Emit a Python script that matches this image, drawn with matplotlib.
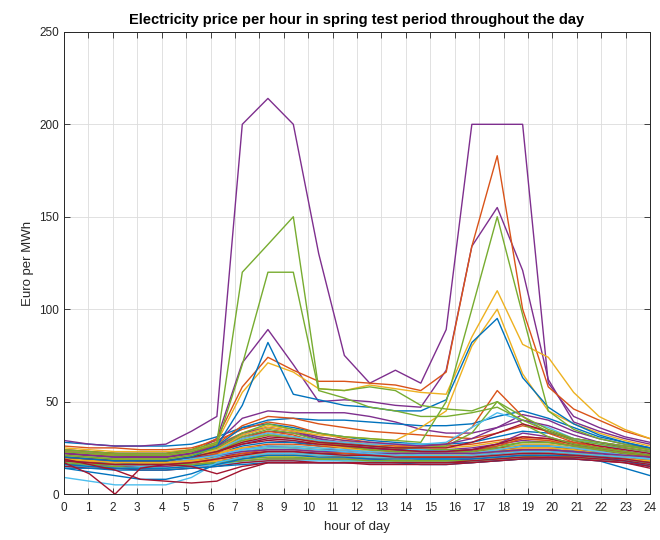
import matplotlib
matplotlib.use("Agg")
import matplotlib.pyplot as plt

# hourly samples spread over the 0..24 axis
hours = [0.00, 1.04, 2.09, 3.13, 4.17, 5.22, 6.26, 7.30, 8.35, 9.39, 10.43, 11.48,
         12.52, 13.57, 14.61, 15.65, 16.70, 17.74, 18.78, 19.83, 20.87, 21.91, 22.96, 24.00]

# ordinary days (Euro per MWh for each hour)
regular_days = [
    [28, 27, 26, 26, 26, 27, 31, 36, 38, 36, 33, 31, 29, 28, 27, 27, 28, 31, 34, 33, 30, 28, 26, 25],
    [26, 25, 25, 24, 24, 25, 29, 35, 39, 37, 33, 30, 28, 27, 26, 26, 27, 29, 31, 30, 28, 26, 25, 23],
    [25, 24, 23, 23, 23, 24, 27, 33, 37, 35, 31, 29, 27, 26, 25, 25, 26, 28, 30, 29, 27, 25, 24, 22],
    [24, 23, 22, 22, 22, 23, 26, 31, 34, 33, 30, 28, 26, 25, 24, 24, 25, 27, 29, 28, 26, 24, 23, 21],
    [23, 22, 22, 21, 21, 22, 25, 29, 32, 31, 29, 27, 26, 25, 24, 24, 24, 26, 28, 28, 26, 24, 22, 21],
    [22, 22, 21, 21, 21, 22, 24, 28, 30, 29, 27, 26, 25, 24, 24, 23, 24, 25, 27, 27, 25, 24, 22, 20],
    [22, 21, 20, 20, 20, 21, 23, 27, 29, 28, 27, 26, 25, 24, 23, 23, 24, 25, 26, 26, 25, 23, 22, 20],
    [21, 20, 20, 19, 19, 20, 22, 26, 28, 28, 26, 25, 24, 24, 23, 23, 23, 24, 26, 26, 24, 23, 21, 19],
    [21, 20, 19, 19, 19, 20, 22, 25, 27, 27, 26, 25, 24, 23, 23, 22, 23, 24, 25, 25, 24, 22, 21, 19],
    [20, 20, 19, 19, 19, 20, 22, 25, 26, 26, 25, 24, 24, 23, 22, 22, 22, 23, 25, 25, 24, 22, 21, 19],
    [20, 19, 18, 18, 18, 19, 21, 24, 26, 25, 24, 24, 23, 22, 22, 22, 22, 23, 24, 24, 23, 22, 20, 18],
    [19, 19, 18, 18, 18, 19, 21, 23, 25, 25, 24, 23, 22, 22, 21, 21, 22, 23, 24, 24, 23, 21, 20, 18],
    [19, 18, 18, 17, 17, 18, 20, 23, 24, 24, 23, 22, 22, 21, 21, 21, 21, 22, 23, 24, 23, 21, 20, 18],
    [18, 18, 17, 17, 17, 18, 20, 22, 23, 23, 22, 22, 21, 21, 20, 20, 21, 22, 23, 23, 22, 21, 19, 17],
    [18, 17, 17, 16, 16, 17, 19, 21, 22, 22, 22, 21, 21, 20, 20, 20, 20, 21, 22, 23, 22, 21, 19, 17],
    [17, 17, 16, 16, 16, 17, 18, 20, 21, 21, 21, 20, 20, 20, 19, 19, 20, 21, 22, 22, 22, 20, 19, 17],
    [17, 16, 16, 15, 15, 16, 18, 19, 20, 20, 20, 20, 19, 19, 19, 19, 19, 20, 21, 22, 21, 20, 18, 16],
    [16, 16, 15, 15, 15, 16, 17, 18, 19, 19, 19, 19, 19, 18, 18, 18, 19, 20, 21, 21, 21, 20, 18, 16],
    [16, 15, 15, 14, 14, 15, 16, 18, 19, 19, 19, 18, 18, 18, 18, 18, 18, 19, 20, 21, 20, 19, 18, 15],
    [15, 15, 14, 14, 14, 15, 16, 17, 18, 18, 18, 18, 18, 17, 17, 17, 18, 19, 20, 20, 20, 19, 17, 15],
    [15, 14, 14, 13, 13, 14, 15, 17, 18, 18, 17, 17, 17, 17, 17, 17, 17, 18, 19, 20, 19, 18, 17, 14],
    [14, 14, 13, 13, 13, 14, 15, 16, 17, 17, 17, 17, 17, 17, 16, 16, 17, 18, 19, 19, 19, 18, 14, 10],
    [20, 19, 19, 18, 18, 19, 22, 30, 34, 32, 28, 26, 24, 23, 22, 22, 23, 26, 30, 29, 26, 24, 22, 20],
    [19, 18, 17, 17, 17, 18, 21, 28, 33, 31, 27, 25, 23, 22, 22, 21, 22, 24, 27, 27, 25, 23, 21, 19],
    [23, 22, 21, 21, 21, 22, 25, 32, 36, 34, 30, 27, 25, 24, 23, 23, 24, 27, 33, 31, 27, 25, 23, 21],
    [21, 21, 20, 20, 20, 21, 24, 31, 35, 33, 29, 26, 24, 23, 23, 23, 23, 25, 28, 28, 26, 24, 22, 21],
    [17, 16, 16, 15, 16, 17, 20, 24, 26, 26, 25, 24, 23, 22, 22, 22, 22, 24, 26, 26, 25, 23, 21, 19],
    [22, 21, 21, 20, 20, 21, 23, 27, 30, 29, 27, 26, 25, 24, 23, 23, 24, 27, 31, 30, 27, 25, 23, 21],
    [16, 15, 14, 14, 14, 15, 17, 20, 22, 22, 21, 21, 20, 20, 19, 19, 20, 22, 24, 24, 23, 21, 19, 17],
    [18, 17, 16, 16, 16, 17, 19, 22, 24, 24, 23, 22, 21, 21, 20, 20, 21, 22, 24, 24, 23, 21, 20, 18],
    [19, 18, 18, 17, 17, 18, 19, 21, 22, 22, 21, 21, 20, 20, 20, 20, 20, 21, 22, 22, 21, 20, 19, 18],
    [21, 20, 20, 19, 19, 20, 21, 23, 24, 24, 23, 23, 22, 22, 22, 22, 22, 23, 24, 24, 23, 22, 21, 20],
    [17, 16, 16, 16, 16, 16, 17, 19, 20, 20, 19, 19, 18, 18, 18, 18, 18, 19, 20, 21, 20, 19, 18, 17],
    [20, 19, 18, 18, 18, 19, 21, 24, 25, 25, 24, 23, 22, 21, 21, 21, 21, 22, 23, 23, 22, 21, 20, 19],
]

# unusually cheap nights
low_days = [
    [9, 7, 5, 5, 5, 9, 17, 20, 22, 22, 21, 21, 20, 20, 19, 19, 20, 21, 22, 22, 21, 20, 18, 16],
    [14, 12, 10, 8, 8, 11, 16, 19, 21, 21, 20, 20, 19, 19, 19, 19, 19, 20, 21, 21, 21, 20, 18, 15],
    [17, 11, 0, 14, 16, 17, 19, 21, 23, 23, 22, 21, 21, 20, 20, 20, 20, 21, 22, 22, 21, 20, 19, 17],
    [19, 16, 13, 8, 7, 6, 7, 13, 17, 17, 17, 17, 17, 17, 17, 17, 18, 19, 20, 20, 20, 19, 18, 16],
    [18, 17, 16, 16, 16, 15, 11, 15, 17, 17, 17, 17, 16, 16, 16, 16, 17, 18, 19, 19, 19, 18, 17, 15],
]
low_colors = [5, 0, 6, 6, 6]

# days with evening / morning bumps
bump_days = [
    [23, 22, 21, 21, 21, 23, 28, 41, 45, 44, 44, 44, 42, 39, 35, 33, 33, 36, 43, 40, 34, 30, 27, 25],
    [21, 20, 19, 19, 19, 21, 26, 36, 40, 41, 40, 40, 39, 38, 37, 37, 38, 42, 45, 41, 36, 31, 28, 25],
    [22, 21, 20, 20, 20, 22, 27, 37, 42, 41, 38, 36, 34, 33, 32, 31, 30, 33, 37, 34, 30, 28, 26, 24],
    [20, 19, 19, 18, 18, 20, 24, 30, 33, 31, 29, 28, 27, 26, 26, 27, 36, 56, 42, 33, 28, 25, 23, 21],
    [20, 19, 19, 18, 18, 20, 23, 29, 32, 30, 28, 27, 26, 25, 25, 26, 33, 50, 38, 31, 27, 25, 23, 21],
    [21, 20, 20, 19, 19, 21, 24, 30, 33, 31, 29, 28, 27, 27, 27, 28, 36, 44, 40, 36, 30, 27, 24, 22],
    [22, 21, 20, 20, 20, 22, 26, 33, 36, 34, 31, 29, 28, 27, 26, 27, 30, 36, 40, 37, 32, 28, 25, 23],
    [20, 19, 18, 18, 18, 20, 23, 28, 31, 30, 28, 27, 26, 25, 25, 25, 28, 33, 38, 34, 29, 26, 24, 22],
]
bump_colors = [3, 0, 1, 1, 4, 5, 3, 6]

# price spike days
spike_days = [
    [29, 27, 26, 26, 27, 34, 42, 200, 214, 200, 130, 75, 60, 67, 60, 89, 200, 200, 200, 60, 42, 36, 31, 28],
    [22, 21, 20, 20, 20, 22, 30, 71, 89, 70, 50, 51, 50, 48, 47, 67, 134, 155, 121, 62, 39, 34, 30, 27],
    [24, 23, 22, 22, 22, 24, 30, 58, 74, 67, 61, 61, 60, 59, 56, 66, 134, 183, 100, 58, 46, 40, 34, 30],
    [23, 22, 21, 21, 21, 23, 28, 55, 71, 66, 57, 56, 59, 57, 55, 54, 85, 110, 81, 74, 55, 42, 35, 30],
    [21, 20, 19, 19, 19, 21, 24, 32, 36, 34, 32, 31, 30, 29, 36, 45, 80, 100, 65, 45, 38, 33, 29, 26],
    [20, 19, 18, 18, 18, 20, 26, 48, 82, 54, 51, 48, 47, 45, 45, 51, 82, 95, 63, 47, 38, 32, 28, 25],
    [24, 23, 22, 22, 22, 24, 28, 120, 135, 150, 57, 56, 58, 56, 48, 46, 45, 50, 42, 35, 30, 28, 26, 24],
    [23, 22, 21, 21, 21, 23, 27, 70, 120, 120, 56, 52, 47, 45, 42, 42, 44, 47, 40, 34, 29, 27, 25, 23],
    [21, 20, 19, 19, 19, 21, 25, 33, 38, 35, 33, 31, 30, 29, 28, 50, 100, 150, 97, 45, 35, 30, 27, 24],
]
spike_colors = [3, 3, 1, 2, 2, 0, 4, 4, 4]

# MATLAB default line colour order
palette = ["#0072BD", "#D95319", "#EDB120", "#7E2F8E", "#77AC30", "#4DBEEE", "#A2142F"]

plt.rcParams["font.family"] = ["Liberation Sans", "DejaVu Sans"]

fig = plt.figure(figsize=(6.6, 5.4), dpi=100)
ax = fig.add_axes([0.097, 0.085, 0.888, 0.856])

for n, day in enumerate(regular_days):
    ax.plot(hours, day, color=palette[n % 7], lw=1.0)
for day, c in zip(low_days, low_colors):
    ax.plot(hours, day, color=palette[c], lw=1.0)
for day, c in zip(bump_days, bump_colors):
    ax.plot(hours, day, color=palette[c], lw=1.0)
for day, c in zip(spike_days, spike_colors):
    ax.plot(hours, day, color=palette[c], lw=1.0)

ax.set_xlim(0, 24)
ax.set_ylim(0, 250)
ax.set_xticks(range(25))
ax.set_yticks(range(0, 251, 50))
ax.grid(True, color="#dcdcdc", lw=0.6)
ax.set_axisbelow(True)
ax.tick_params(direction="in", top=True, right=True, length=4, width=0.6,
               labelsize=8.5, colors="#262626")
ax.tick_params(axis="x", pad=6)
for s in ax.spines.values():
    s.set_linewidth(0.7)
    s.set_color("#262626")

ax.set_title("Electricity price per hour in spring test period throughout the day",
             fontsize=10.5, fontweight="bold", pad=6)
ax.set_xlabel("hour of day", fontsize=9.5, color="#262626", labelpad=5)
ax.set_ylabel("Euro per MWh", fontsize=9.5, color="#262626")

fig.savefig("out.png", dpi=100)
